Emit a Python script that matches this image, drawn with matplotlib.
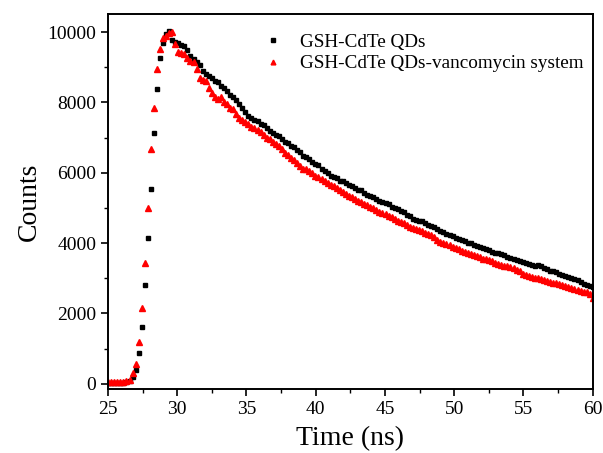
import matplotlib
matplotlib.use("Agg")
import matplotlib.pyplot as plt
import numpy as np
from matplotlib.ticker import MultipleLocator

# TCSPC channel grid (ns)
t_start = 25.02
t_step = 0.22

qds_counts = [
    20, 20, 25, 20, 25, 30, 40, 80, 200, 390,
    870, 1610, 2800, 4140, 5550, 7140, 8380, 9250, 9700, 9940,
    10020, 9770, 9730, 9700, 9620, 9600, 9480, 9330, 9230, 9150,
    9070, 8900, 8800, 8760, 8700, 8600, 8590, 8480, 8400, 8330,
    8200, 8150, 8060, 7960, 7830, 7720, 7620, 7560, 7500, 7460,
    7400, 7350, 7260, 7200, 7130, 7070, 7040, 6950, 6880, 6840,
    6760, 6720, 6640, 6600, 6480, 6460, 6400, 6310, 6260, 6220,
    6120, 6060, 6000, 5900, 5880, 5860, 5780, 5760, 5700, 5660,
    5620, 5560, 5510, 5500, 5420, 5380, 5340, 5300, 5250, 5200,
    5180, 5130, 5100, 5040, 5010, 4960, 4900, 4880, 4800, 4760,
    4700, 4660, 4640, 4620, 4570, 4520, 4500, 4470, 4400, 4340,
    4310, 4260, 4230, 4200, 4150, 4120, 4090, 4050, 4010, 3990,
    3950, 3920, 3890, 3860, 3830, 3800, 3760, 3720, 3710, 3680,
    3650, 3600, 3580, 3560, 3520, 3480, 3460, 3430, 3400, 3380,
    3340, 3370, 3350, 3300, 3260, 3210, 3200, 3170, 3130, 3100,
    3060, 3040, 3000, 2970, 2940, 2900, 2850, 2820, 2790, 2760,
]

vanco_counts = [
    50, 50, 55, 50, 60, 60, 70, 120, 300, 560,
    1190, 2170, 3440, 5000, 6670, 7850, 8960, 9530, 9830, 9900,
    9980, 10000, 9650, 9420, 9400, 9380, 9250, 9180, 9150, 8950,
    8700, 8650, 8620, 8400, 8280, 8150, 8100, 8150, 8000, 7950,
    7830, 7800, 7680, 7560, 7500, 7430, 7380, 7310, 7260, 7220,
    7150, 7080, 7000, 6950, 6880, 6830, 6760, 6680, 6560, 6500,
    6430, 6370, 6280, 6200, 6120, 6100, 6040, 5980, 5900, 5880,
    5820, 5760, 5700, 5650, 5620, 5560, 5500, 5460, 5400, 5340,
    5300, 5260, 5200, 5170, 5120, 5080, 5030, 4990, 4950, 4880,
    4850, 4820, 4780, 4730, 4690, 4640, 4600, 4560, 4520, 4470,
    4430, 4410, 4370, 4340, 4300, 4260, 4230, 4170, 4100, 4030,
    4000, 3970, 3950, 3900, 3860, 3830, 3790, 3750, 3720, 3690,
    3660, 3630, 3610, 3560, 3540, 3510, 3480, 3440, 3420, 3390,
    3360, 3340, 3320, 3290, 3250, 3200, 3130, 3100, 3080, 3050,
    3020, 3000, 2980, 2950, 2930, 2900, 2880, 2860, 2840, 2800,
    2780, 2760, 2730, 2700, 2680, 2650, 2620, 2600, 2560, 2450,
]

labels = ["GSH-CdTe QDs", "GSH-CdTe QDs-vancomycin system"]

time = t_start + t_step * np.arange(len(qds_counts))

plt.rcParams["font.family"] = ["Liberation Serif", "DejaVu Serif"]

fig = plt.figure(figsize=(6.03, 4.53), dpi=100)
ax = fig.add_axes([0.179, 0.141, 0.804, 0.827])

ax.plot(time, qds_counts, "s", color="black", markersize=3.2, label=labels[0])
ax.plot(time, vanco_counts, "^", color="red", markersize=3.8, label=labels[1])

ax.set_xlim(25, 60)
ax.set_ylim(-150, 10500)
ax.xaxis.set_major_locator(MultipleLocator(5))
ax.xaxis.set_minor_locator(MultipleLocator(2.5))
ax.yaxis.set_major_locator(MultipleLocator(2000))
ax.yaxis.set_minor_locator(MultipleLocator(1000))
ax.tick_params(which="major", direction="out", length=5, width=1.2, labelsize=14)
ax.tick_params(which="minor", direction="out", length=3, width=1.0)
for s in ax.spines.values():
    s.set_linewidth(1.4)

ax.set_xlabel("Time (ns)", fontsize=20, labelpad=6)
ax.set_ylabel("Counts", fontsize=20, labelpad=4)

ax.legend(loc="upper left", bbox_to_anchor=(0.285, 0.995), frameon=False,
          fontsize=13.8, handlelength=1.0, handletextpad=0.9,
          labelspacing=0.2, markerscale=0.9)

fig.savefig("out.png", dpi=100)
